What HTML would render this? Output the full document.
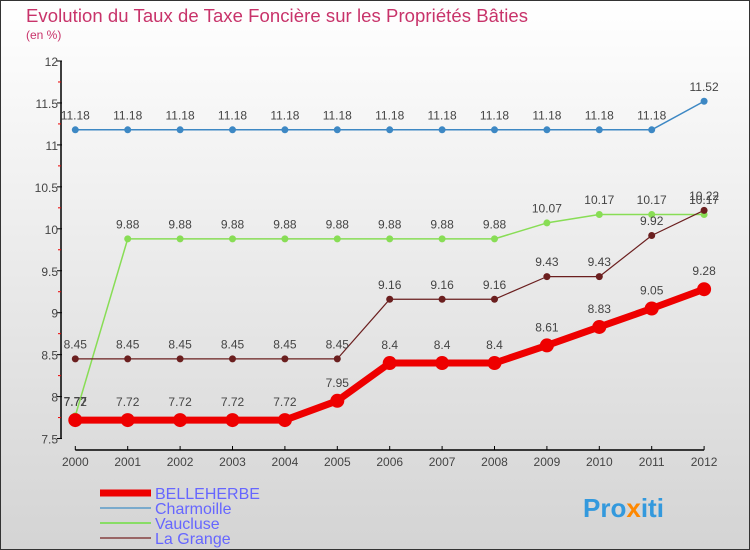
<!DOCTYPE html>
<html><head><meta charset="utf-8"><style>
body{margin:0}
#c{width:750px;height:550px;position:relative;overflow:hidden;font-family:"Liberation Sans",sans-serif}
</style></head><body>
<div id="c">
<svg id="s" width="750" height="550" xmlns="http://www.w3.org/2000/svg">
<defs><linearGradient id="bg" x1="0" y1="0" x2="0" y2="1"><stop offset="0" stop-color="#ffffff"/><stop offset="1" stop-color="#d4d4d4"/></linearGradient></defs>
<rect x="0.5" y="0.5" width="749" height="549" fill="url(#bg)" stroke="#333"/>
<text x="26" y="22" font-size="18.5" fill="#c8336a" textLength="502">Evolution du Taux de Taxe Foncière sur les Propriétés Bâties</text>
<text x="26" y="39" font-size="12" fill="#c8336a">(en %)</text>
<g id="axes"></g><g id="series"></g>
<g>
<line x1="100" y1="493" x2="151" y2="493" stroke="#ee0000" stroke-width="7"/>
<text x="155" y="499" font-size="16" fill="#6666ff">BELLEHERBE</text>
<line x1="100" y1="508" x2="151" y2="508" stroke="#7aaacc" stroke-width="2"/>
<text x="155" y="514" font-size="16" fill="#6666ff">Charmoille</text>
<line x1="100" y1="523" x2="151" y2="523" stroke="#88dd66" stroke-width="2"/>
<text x="155" y="529" font-size="16" fill="#6666ff">Vaucluse</text>
<line x1="100" y1="538" x2="151" y2="538" stroke="#996666" stroke-width="2"/>
<text x="155" y="544" font-size="16" fill="#6666ff">La Grange</text>
</g>
<text x="583" y="517" font-size="26" font-weight="bold" fill="#3399dd">Pro<tspan fill="#ff8800">x</tspan>iti</text>
</svg>
</div>
<script>
const years=[2000,2001,2002,2003,2004,2005,2006,2007,2008,2009,2010,2011,2012];
const belleherbe=[7.72,7.72,7.72,7.72,7.72,7.95,8.4,8.4,8.4,8.61,8.83,9.05,9.28];
const charmoille=[11.18,11.18,11.18,11.18,11.18,11.18,11.18,11.18,11.18,11.18,11.18,11.18,11.52];
const vaucluse=[7.77,9.88,9.88,9.88,9.88,9.88,9.88,9.88,9.88,10.07,10.17,10.17,10.17];
const lagrange=[8.45,8.45,8.45,8.45,8.45,8.45,9.16,9.16,9.16,9.43,9.43,9.92,10.22];
const yTicks=[7.5,8,8.5,9,9.5,10,10.5,11,11.5,12];
const NS="http://www.w3.org/2000/svg";
const x=i=>75.3+i*52.4;
const y=v=>61+(12-v)*83.9;
function mk(tag,attrs,parent,txt){const e=document.createElementNS(NS,tag);for(const k in attrs)e.setAttribute(k,attrs[k]);if(txt!==undefined)e.textContent=txt;parent.appendChild(e);return e;}
const ax=document.getElementById('axes');
let e=mk('line',{x1:61,y1:y(12),x2:61,y2:y(7.5),stroke:'#000','stroke-width':1.5},ax);


e=mk('line',{x1:x(0),y1:450,x2:x(12),y2:450,stroke:'#000','stroke-width':1.5},ax);


yTicks.forEach((t,i)=>{
  mk('line',{x1:57,y1:y(t),x2:62,y2:y(t),stroke:'#000'},ax);
  e=mk('text',{x:58,y:y(t)+5,'font-size':12,fill:'#444','text-anchor':'end'},ax,String(t));
  
  
  if(i<yTicks.length-1)mk('line',{x1:58,y1:y(t+0.25),x2:61,y2:y(t+0.25),stroke:'#e00'},ax);
});
years.forEach((yr,i)=>{
  mk('line',{x1:x(i),y1:446,x2:x(i),y2:450,stroke:'#000'},ax);
  e=mk('text',{x:x(i),y:466,'font-size':12,fill:'#444','text-anchor':'middle'},ax,String(yr));
  
  
});
const sg=document.getElementById('series');
function draw(name,vals,color,w,r){
  const g=mk('g',{},sg);
  
  
  const p=mk('polyline',{points:vals.map((v,i)=>x(i)+','+y(v)).join(' '),fill:'none',stroke:color,'stroke-width':w,'stroke-linejoin':'round'},g);
  
  
  vals.forEach((v,i)=>{
    const c=mk('circle',{cx:x(i),cy:y(v),r:r,fill:color},g);
    
    
    const t=mk('text',{x:x(i),y:y(v)-(r+7),'font-size':12,fill:'#444','text-anchor':'middle'},g,String(v));
    
    
  });
}
draw('charmoille',charmoille,'#3d88c4',1.5,3.5);
draw('vaucluse',vaucluse,'#88dd55',1.5,3.5);
draw('la-grange',lagrange,'#6b1f1f',1.2,3.5);
draw('belleherbe',belleherbe,'#ee0000',7,7);
</script>
</body></html>
